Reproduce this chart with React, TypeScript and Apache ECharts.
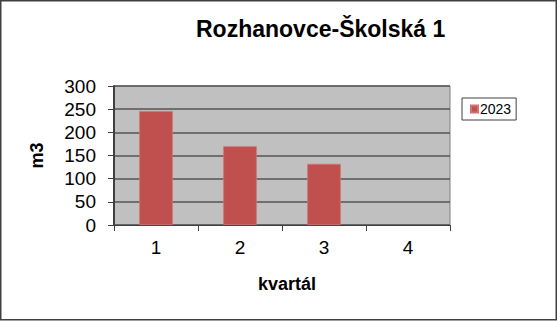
import React, { useEffect, useRef } from "react";
import * as echarts from "echarts";

const categories = ["1", "2", "3", "4"];
const seriesName = "2023";
const values: (number | null)[] = [246, 170, 132, null];
const titleText = "Rozhanovce-Školská 1";
const xTitle = "kvartál";
const yTitle = "m3";

const FONT = "'Liberation Sans', Arial, sans-serif";

export default function App() {
  const ref = useRef<HTMLDivElement>(null);
  useEffect(() => {
    if (!ref.current) return;
    const chart = echarts.init(ref.current, undefined, { renderer: "svg" });
    chart.setOption({
      animation: false,
      backgroundColor: "#ffffff",
      textStyle: { fontFamily: FONT },
      title: {
        text: titleText,
        left: 191,
        top: 12,
        textStyle: { fontFamily: FONT, fontSize: 23, fontWeight: "bold", color: "#000" },
      },
      legend: {
        data: [seriesName],
        left: 462,
        top: 98,
        orient: "vertical",
        itemWidth: 7,
        itemHeight: 7,
        itemGap: 2,
        padding: [4, 5, 4, 8],
        borderColor: "#404040",
        borderWidth: 1,
        backgroundColor: "#ffffff",
        icon: "rect",
        textStyle: { fontFamily: FONT, fontSize: 14, color: "#000", padding: [0, 0, 0, -3] },
      },
      grid: {
        left: 114,
        right: 109,
        top: 86,
        bottom: 96,
        show: true,
        backgroundColor: "#C0C0C0",
        borderColor: "#808080",
        borderWidth: 1,
      },
      xAxis: {
        type: "category",
        data: categories,
        boundaryGap: true,
        name: xTitle,
        nameLocation: "middle",
        nameGap: 50,
        nameTextStyle: { fontFamily: FONT, fontSize: 18, fontWeight: "bold", color: "#000", padding: [0, 0, 0, 10] },
        axisLine: { show: true, lineStyle: { color: "#404040", width: 1 } },
        axisTick: { show: true, length: 6, lineStyle: { color: "#404040" } },
        axisLabel: { fontFamily: FONT, fontSize: 19, color: "#000", margin: 13 },
        splitLine: { show: false },
      },
      yAxis: {
        type: "value",
        min: 0,
        max: 300,
        interval: 50,
        name: yTitle,
        nameLocation: "middle",
        nameGap: 68,
        nameRotate: 90,
        nameTextStyle: { fontFamily: FONT, fontSize: 18, fontWeight: "bold", color: "#000" },
        axisLine: { show: true, lineStyle: { color: "#404040", width: 2 } },
        axisTick: { show: true, length: 6, lineStyle: { color: "#404040" } },
        axisLabel: { fontFamily: FONT, fontSize: 19, color: "#000", margin: 18 },
        splitLine: { show: true, lineStyle: { color: "#555555", width: 1.5 } },
      },
      series: [
        {
          name: seriesName,
          type: "bar",
          data: values,
          barWidth: "40%",
          itemStyle: { color: "#C0504D", borderColor: "#D27370", borderWidth: 0.8 },
        },
      ],
      graphic: [
        {
          type: "rect",
          silent: true,
          shape: { x: 0.75, y: 0.75, width: 555.5, height: 319 },
          style: { fill: "none", stroke: "#404040", lineWidth: 1.5 },
        },
      ],
    });
    return () => chart.dispose();
  }, []);
  return (
    <div
      ref={ref}
      style={{ position: "fixed", left: 0, top: 0, width: 559, height: 321 }}
    />
  );
}
